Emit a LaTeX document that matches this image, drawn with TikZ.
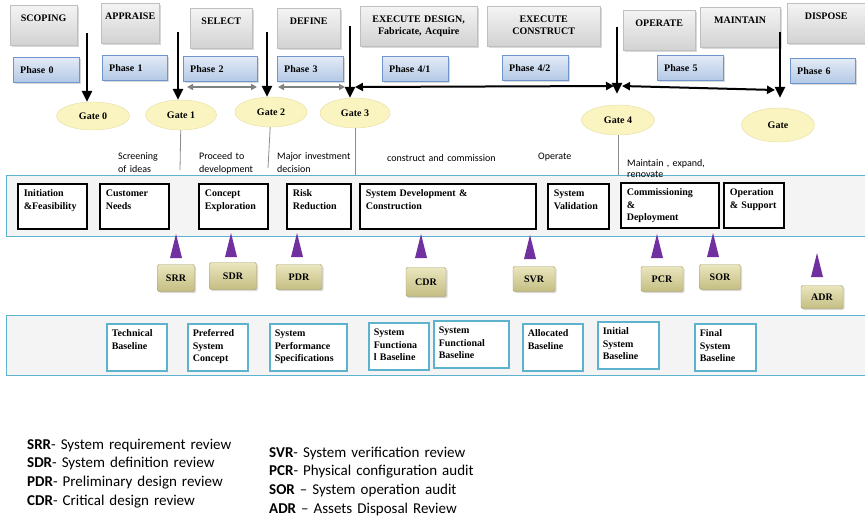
\documentclass[tikz,border=0pt]{standalone}
\usepackage{fontspec}
\setmainfont{Liberation Serif}
\newfontfamily\calib{Carlito}
\usetikzlibrary{arrows.meta,shapes.geometric,shadows}

\definecolor{stageline}{HTML}{BFBFBF}
\definecolor{stagetop}{HTML}{F4F4F4}
\definecolor{stagebot}{HTML}{D2D2D2}
\definecolor{phaseline}{HTML}{6F96CC}
\definecolor{phasetop}{HTML}{E3EBF6}
\definecolor{phasebot}{HTML}{B4C9E6}
\definecolor{gatefill}{HTML}{FAF4C0}
\definecolor{gateline}{HTML}{E6DCA0}
\definecolor{bandline}{HTML}{5DB3CD}
\definecolor{bandfill}{HTML}{F4F4F4}
\definecolor{revtop}{HTML}{EAE6BE}
\definecolor{revbot}{HTML}{C4BD82}
\definecolor{revline}{HTML}{A39C63}
\definecolor{revpurple}{HTML}{7030A0}

\tikzset{revtri/.pic={\fill[revpurple] (-6,0) -- (6,0) -- (0,-24) -- cycle;}}

\begin{document}
\begin{tikzpicture}[x=1pt, y=-1pt,
    serif/.style = {font=\bfseries\fontsize{10}{12.5}\selectfont},
    shade/.style = {drop shadow={opacity=.3, shadow xshift=1.5pt, shadow yshift=-1.5pt}},
    stage/.style = {serif, shade, draw=stageline, top color=stagetop, bottom color=stagebot, anchor=north west, align=center, inner xsep=3pt, inner ysep=3pt, text height=13pt, text depth=21pt},
    phase/.style = {serif, shade, draw=phaseline, top color=phasetop, bottom color=phasebot, anchor=north west, align=left, inner xsep=7pt, minimum height=25pt},
    gate/.style = {serif, ellipse, draw=gateline, fill=gatefill, inner sep=0pt},
    inbox/.style = {serif, draw, line width=1.6pt, fill=white, anchor=north west, align=left, inner xsep=6pt, inner ysep=4pt, text height=9pt, text depth=28pt},
    basebox/.style = {serif, draw=bandline, line width=1.6pt, fill=white, anchor=north west, align=left, inner xsep=5pt, inner ysep=4pt, text height=9pt, text depth=30pt},
    review/.style = {serif, shade, draw=revline, top color=revtop, bottom color=revbot, rounded corners=1.5pt, inner sep=0pt},
    band/.style = {draw=bandline, line width=1.3pt, fill=bandfill, anchor=north west, inner sep=0pt, minimum width=866pt},
    note/.style = {font=\calib\fontsize{10}{13}\selectfont, anchor=base west, align=left, text width=130pt, inner sep=0pt},
    legend/.style = {font=\calib\fontsize{15}{18.8}\selectfont, anchor=base west, align=left, text width=235pt, inner sep=0pt},
    down/.style = {line width=2.6pt, -{Triangle[length=11pt, width=10pt]}},
    span/.style = {line width=2pt, {Triangle[length=8pt, width=8pt]}-{Triangle[length=8pt, width=8pt]}},
    gspan/.style = {draw=black!50, line width=1.4pt, {Triangle[length=6pt, width=6pt]}-{Triangle[length=6pt, width=6pt]}},
    tie/.style = {draw=black!45, line width=.8pt}]
    \useasboundingbox (0,0) rectangle (865,517);

    \node[band, minimum height=61pt] (midband) at (6,175) {};
    \node[band, minimum height=60pt] (botband) at (6,315) {};

    \node[stage, text width=61pt] (scoping) at (10,5) {SCOPING};
    \node[stage, text width=52pt] (appraise) at (101,3) {APPRAISE};
    \node[stage, text width=56pt] (select) at (190,8) {SELECT};
    \node[stage, text width=57pt] (define) at (277,8) {DEFINE};
    \node[stage, text width=111pt] (execdes) at (360,6) {EXECUTE DESIGN,\\Fabricate, Acquire};
    \node[stage, text width=107pt] (execcon) at (487,6) {EXECUTE\\CONSTRUCT};
    \node[stage, text width=66pt] (operate) at (623,10) {OPERATE};
    \node[stage, text width=74pt] (maintain) at (700,7) {MAINTAIN};
    \node[stage, text width=72pt] (dispose) at (787,3) {DISPOSE};

    \node[phase, text width=52pt] (ph0) at (13,57) {Phase 0};
    \node[phase, text width=51pt] (ph1) at (102,55) {Phase 1};
    \node[phase, text width=60pt] (ph2) at (183,56) {Phase 2};
    \node[phase, text width=52pt] (ph3) at (277,56) {Phase 3};
    \node[phase, text width=52pt] (ph41) at (382,56) {Phase 4/1};
    \node[phase, text width=52pt] (ph42) at (502,55) {Phase 4/2};
    \node[phase, text width=52pt] (ph5) at (657,55) {Phase 5};
    \node[phase, text width=51pt] (ph6) at (790,58) {Phase 6};

    \node[gate, minimum width=73pt, minimum height=28pt] (g0) at (93,116) {Gate 0};
    \node[gate, minimum width=71pt, minimum height=30pt] (g1) at (181,115) {Gate 1};
    \node[gate, minimum width=72pt, minimum height=30pt] (g2) at (271,112) {Gate 2};
    \node[gate, minimum width=70pt, minimum height=30pt] (g3) at (355,113) {Gate 3};
    \node[gate, minimum width=73pt, minimum height=30pt] (g4) at (618,120) {Gate 4};
    \node[gate, minimum width=73pt, minimum height=34pt] (g5) at (778,125) {Gate};

    \coordinate (a0) at (87,33);
    \coordinate (a1) at (178,32);
    \coordinate (a2) at (267,32);
    \coordinate (a3) at (350,26);
    \coordinate (a4) at (617,27);
    \coordinate (a5) at (780,32);
    \draw[down] (a0) -- (a0 |- g0.north);
    \draw[down] (a1) -- (a1 |- g1.north);
    \draw[down] (a2) -- (a2 |- g2.north);
    \draw[down] (a3) -- (a3 |- g3.north);
    \draw[down, shorten >=11pt] (a4) -- (a4 |- g4.north);
    \draw[down, shorten >=10pt] (a5) -- (a5 |- g5.north);

    \coordinate (h1a) at (187,87);
    \coordinate (h1b) at (257,87);
    \coordinate (h2a) at (278,87);
    \coordinate (h2b) at (345,87);
    \coordinate (h3a) at (355,87);
    \coordinate (h3b) at (614,86);
    \coordinate (h4a) at (622,86);
    \coordinate (h4b) at (775,90);
    \draw[gspan] (h1a) -- (h1b);
    \draw[gspan] (h2a) -- (h2b);
    \draw[span] (h3a) -- (h3b);
    \draw[span] (h4a) -- (h4b);

    \coordinate (t1) at (180,170);
    \coordinate (t2) at (268,168);
    \draw[tie] (g1) -- (t1);
    \draw[tie] (g2) -- (t2);
    \draw[tie] (g3) -- (g3 |- midband.north);
    \draw[tie] (g4) -- (g4 |- midband.north);

    \node[note] (screen) at (118,159) {Screening\\of ideas};
    \node[note] (proceed) at (199,159) {Proceed to\\development};
    \node[note] (invest) at (277,159) {Major investment\\decision};
    \node[note] (construct) at (387,161) {construct and commission};
    \node[note] (operatenote) at (538,159) {Operate};
    \node[note] (renew) at (627,166) {Maintain , expand,\\[-2pt]renovate};

    \node[inbox, text width=57pt] (init) at (17,183) {Initiation\\\&Feasibility};
    \node[inbox, text width=57pt] (needs) at (99,183) {Customer\\Needs};
    \node[inbox, text width=57pt] (concept) at (198,183) {Concept\\Exploration};
    \node[inbox, text width=52pt] (risk) at (286,183) {Risk\\Reduction};
    \node[inbox, text width=164pt] (sysdev) at (359,183) {System Development \&\\Construction};
    \node[inbox, text width=49pt] (sysval) at (547,183) {System\\Validation};
    \node[inbox, text width=86pt] (deploy) at (620,182) {Commissioning\\\&\\Deployment};
    \node[inbox, text width=48pt] (support) at (723,182) {Operation\\\& Support};

    \pic at (176,258) {revtri};
    \pic at (231,257) {revtri};
    \pic at (297,257) {revtri};
    \pic at (421,258) {revtri};
    \pic at (530,259) {revtri};
    \pic at (657,258) {revtri};
    \pic at (713,257) {revtri};
    \pic at (817,277) {revtri};

    \node[review, minimum width=37pt, minimum height=27pt] (srr) at (176,278) {SRR};
    \node[review, minimum width=47pt, minimum height=27pt] (sdr) at (233,276) {SDR};
    \node[review, minimum width=46pt, minimum height=25pt] (pdr) at (299,277) {PDR};
    \node[review, minimum width=40pt, minimum height=29pt] (cdr) at (426,282) {CDR};
    \node[review, minimum width=42pt, minimum height=25pt] (svr) at (534,279) {SVR};
    \node[review, minimum width=42pt, minimum height=25pt] (pcr) at (662,279) {PCR};
    \node[review, minimum width=41pt, minimum height=25pt] (sor) at (720,277) {SOR};
    \node[review, minimum width=42pt, minimum height=23pt] (adr) at (822,297) {ADR};

    \node[basebox, text width=50pt] (tech) at (106,323) {Technical\\Baseline};
    \node[basebox, text width=50pt] (pref) at (187,323) {Preferred\\System\\Concept};
    \node[basebox, text width=67pt] (perf) at (269,323) {System\\Performance\\Specifications};
    \node[basebox, text width=50pt] (func1) at (368,322) {System\\Functiona\\l Baseline};
    \node[basebox, text width=65pt] (func2) at (433,320) {System\\Functional\\Baseline};
    \node[basebox, text width=50pt] (alloc) at (522,323) {Allocated\\Baseline};
    \node[basebox, text width=51pt] (initsys) at (597,321) {Initial\\System\\Baseline};
    \node[basebox, text width=51pt] (finalsys) at (694,323) {Final\\System\\Baseline};

    \node[legend] (legleft) at (27,449) {\textbf{SRR}- System requirement review\\\textbf{SDR}- System definition review\\\textbf{PDR}- Preliminary design review\\\textbf{CDR}- Critical design review};
    \node[legend] (legright) at (269,457) {\textbf{SVR}- System verification review\\\textbf{PCR}- Physical configuration audit\\\textbf{SOR} – System operation audit\\\textbf{ADR} – Assets Disposal Review};
\end{tikzpicture}
\end{document}
